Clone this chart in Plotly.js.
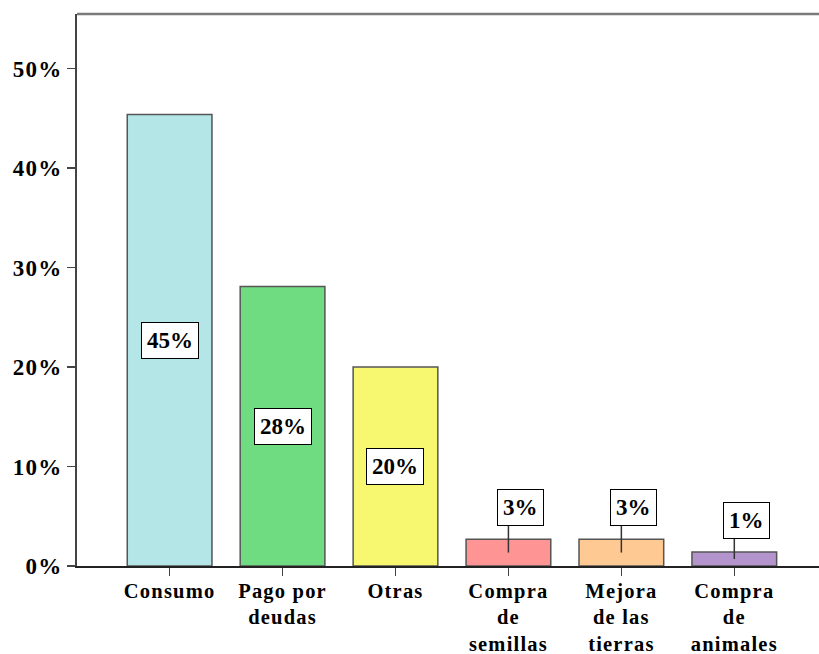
<!DOCTYPE html>
<html>
<head>
<meta charset="utf-8">
<script src="https://cdn.plot.ly/plotly-3.0.1.min.js"></script>
<style>
html,body{margin:0;padding:0;background:#fff;}
#chart{width:819px;height:654px;}
#chart .xtick text, #chart .ytick text{letter-spacing:1.2px;}
</style>
</head>
<body>
<div id="chart"></div>
<script>
const categories = ["Consumo", "Pago por<br>deudas", "Otras", "Compra<br>de<br>semillas", "Mejora<br>de las<br>tierras", "Compra<br>de<br>animales"];
const values = [45.4, 28.1, 20.0, 2.7, 2.7, 1.4];
const valueLabels = ["45%", "28%", "20%", "3%", "3%", "1%"];
const colors = ["#b4e6e8", "#6fdc82", "#f8f870", "#ff9494", "#ffc994", "#b394cc"];
const insideLabel = [true, true, true, false, false, false];
const yTicks = [0, 10, 20, 30, 40, 50];

const FONT = "'Liberation Serif', 'Times New Roman', serif";
const idx = categories.map((_, i) => i);

const trace = {
  type: "bar",
  x: idx,
  y: values,
  width: 0.75,
  marker: {color: colors, line: {color: "#555555", width: 1.5}},
  hoverinfo: "skip"
};

const annotations = [];
const shapes = [];
idx.forEach(i => {
  const common = {
    xref: "x", yref: "y", showarrow: false,
    text: "<b>" + valueLabels[i] + "</b>",
    font: {family: FONT, size: 23, color: "#000"},
    bgcolor: "#ffffff", bordercolor: "#000000", borderwidth: 1, borderpad: 5
  };
  if (insideLabel[i]) {
    annotations.push(Object.assign({x: i, y: values[i] / 2}, common));
  } else {
    const boxY = values[i] + 3.2;
    annotations.push(Object.assign({x: i, y: boxY, xshift: 12}, common));
    shapes.push({
      type: "line", xref: "x", yref: "y",
      x0: i, x1: i, y0: values[i] / 2, y1: boxY - 1.6,
      line: {color: "#333333", width: 1.5}, layer: "above"
    });
  }
});
shapes.push({type: "line", xref: "paper", yref: "paper", x0: 0, x1: 1, y0: 1, y1: 1,
  line: {color: "#7a7a7a", width: 2.5}});

const layout = {
  width: 819, height: 654,
  margin: {l: 77, r: 0, t: 14, b: 88},
  paper_bgcolor: "#ffffff", plot_bgcolor: "#ffffff",
  showlegend: false,
  font: {family: FONT, color: "#000"},
  xaxis: {
    range: [-0.82, 5.75],
    tickmode: "array", tickvals: idx, ticktext: categories.map(c => "<b>" + c + "</b>"),
    ticks: "outside", ticklen: 8, tickwidth: 1.5, tickcolor: "#444",
    ticklabelstandoff: -3,
    showline: true, linecolor: "#222", linewidth: 2,
    showgrid: false, zeroline: false,
    tickfont: {family: FONT, size: 20.5, color: "#000"}, tickangle: 0
  },
  yaxis: {
    range: [0, 55.5],
    tickmode: "array", tickvals: yTicks, ticktext: yTicks.map(v => "<b>" + v + "%</b>"),
    ticks: "outside", ticklen: 8, tickwidth: 1.5, tickcolor: "#444",
    showline: true, linecolor: "#444", linewidth: 2,
    showgrid: false, zeroline: false,
    tickfont: {family: FONT, size: 23, color: "#000"}
  },
  shapes: shapes,
  annotations: annotations
};

Plotly.newPlot("chart", [trace], layout, {displayModeBar: false, staticPlot: true});
</script>
</body>
</html>
